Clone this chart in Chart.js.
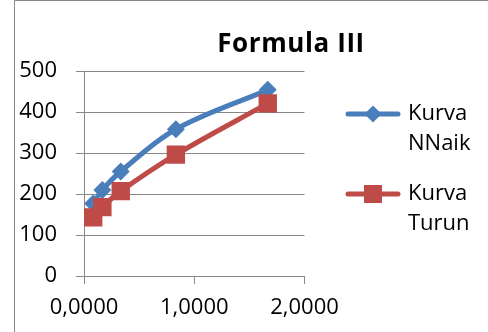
<!DOCTYPE html>
<html>
<head>
<meta charset="utf-8">
<title>Formula III</title>
<script src="https://cdn.jsdelivr.net/npm/chart.js@4.4.1/dist/chart.umd.min.js"></script>
<style>
  html, body { margin: 0; padding: 0; background: #ffffff; }
  #wrap { position: relative; width: 488px; height: 332px; overflow: hidden; }
  canvas { display: block; }
</style>
</head>
<body>
<div id="wrap"><canvas id="chart" width="488" height="332"></canvas></div>
<script>
// Chart data
const chartTitle = 'Formula III';
const xValues = [0.0833, 0.1667, 0.3333, 0.8333, 1.6667];
const naikValues = [177, 210, 255, 358, 454];
const turunValues = [143, 168, 207, 296, 421];
const seriesNames = [['Kurva', 'NNaik'], ['Kurva', 'Turun']];
const xTicks = [0, 1, 2];
const yTicks = [0, 100, 200, 300, 400, 500];

const BLUE = '#4a7ebb';
const RED = '#be4b48';
const GRID = '#878787';
const FONT = '"Open Sans", "Noto Sans", sans-serif';

const toPoints = (xs, ys) => xs.map((x, i) => ({ x: x, y: ys[i] }));
const fmtComma = v => v.toFixed(4).replace('.', ',');

// Frame, title and the two-line legend
const decorations = {
  id: 'decorations',
  beforeDraw(chart) {
    const ctx = chart.ctx;
    ctx.save();
    ctx.fillStyle = '#ffffff';
    ctx.fillRect(0, 0, chart.width, chart.height);
    ctx.strokeStyle = GRID;
    ctx.lineWidth = 1;
    ctx.beginPath();
    ctx.moveTo(14.5, chart.height);
    ctx.lineTo(14.5, 0.5);
    ctx.lineTo(chart.width, 0.5);
    ctx.stroke();
    ctx.restore();
  },
  afterDraw(chart) {
    const ctx = chart.ctx;
    ctx.save();
    ctx.fillStyle = '#000000';
    ctx.font = 'bold 26px ' + FONT;
    if ('letterSpacing' in ctx) ctx.letterSpacing = '0.6px';
    ctx.textAlign = 'center';
    ctx.textBaseline = 'middle';
    ctx.fillText(chartTitle, 291, 45);
    if ('letterSpacing' in ctx) ctx.letterSpacing = '0px';

    const rows = [114, 194];
    chart.data.datasets.forEach((ds, i) => {
      const y = rows[i];
      ctx.strokeStyle = ds.borderColor;
      ctx.lineWidth = 5;
      ctx.lineCap = 'round';
      ctx.beginPath();
      ctx.moveTo(348, y);
      ctx.lineTo(398, y);
      ctx.stroke();
      ctx.fillStyle = ds.pointBackgroundColor;
      ctx.beginPath();
      if (ds.pointStyle === 'rectRot') {
        const r = 8.5;
        ctx.moveTo(373 - r, y);
        ctx.lineTo(373, y - r);
        ctx.lineTo(373 + r, y);
        ctx.lineTo(373, y + r);
        ctx.closePath();
      } else {
        ctx.rect(373 - 9, y - 9, 18, 18);
      }
      ctx.fill();

      ctx.fillStyle = '#000000';
      ctx.font = '22px ' + FONT;
      ctx.textAlign = 'left';
      ctx.textBaseline = 'middle';
      seriesNames[i].forEach((line, k) => {
        ctx.fillText(line, 408, y + k * 30);
      });
    });
    ctx.restore();
  }
};

new Chart(document.getElementById('chart'), {
  type: 'line',
  data: {
    datasets: [
      {
        label: seriesNames[0].join(' '),
        data: toPoints(xValues, naikValues),
        borderColor: BLUE,
        backgroundColor: BLUE,
        pointBackgroundColor: BLUE,
        pointBorderColor: BLUE,
        pointStyle: 'rectRot',
        pointRadius: 9,
        pointBorderWidth: 0,
        borderWidth: 5,
        tension: 0.35,
        order: 1
      },
      {
        label: seriesNames[1].join(' '),
        data: toPoints(xValues, turunValues),
        borderColor: RED,
        backgroundColor: RED,
        pointBackgroundColor: RED,
        pointBorderColor: RED,
        pointStyle: 'rect',
        pointRadius: 13,
        pointBorderWidth: 0,
        borderWidth: 5,
        tension: 0.35,
        order: 0
      }
    ]
  },
  options: {
    responsive: false,
    animation: false,
    devicePixelRatio: 1,
    layout: { padding: { top: 71, right: 183.5, bottom: 0, left: 0 } },
    plugins: {
      legend: { display: false },
      title: { display: false },
      tooltip: { enabled: false }
    },
    scales: {
      x: {
        type: 'linear',
        min: 0,
        max: 2,
        afterFit: s => { s.height = 56; },
        afterBuildTicks: s => { s.ticks = xTicks.map(v => ({ value: v })); },
        ticks: {
          callback: v => fmtComma(v),
          color: '#000000',
          font: { family: FONT, size: 22 },
          padding: 11,
          maxRotation: 0
        },
        grid: { drawOnChartArea: false, drawTicks: true, tickLength: 8, color: GRID },
        border: { display: true, color: GRID }
      },
      y: {
        min: 0,
        max: 500,
        afterFit: s => { s.width = 84; },
        afterBuildTicks: s => { s.ticks = yTicks.map(v => ({ value: v })); },
        ticks: {
          color: '#000000',
          font: { family: FONT, size: 22 },
          padding: 19
        },
        grid: { color: GRID, tickLength: 8, drawTicks: true },
        border: { display: true, color: GRID }
      }
    }
  },
  plugins: [decorations]
});
</script>
</body>
</html>
